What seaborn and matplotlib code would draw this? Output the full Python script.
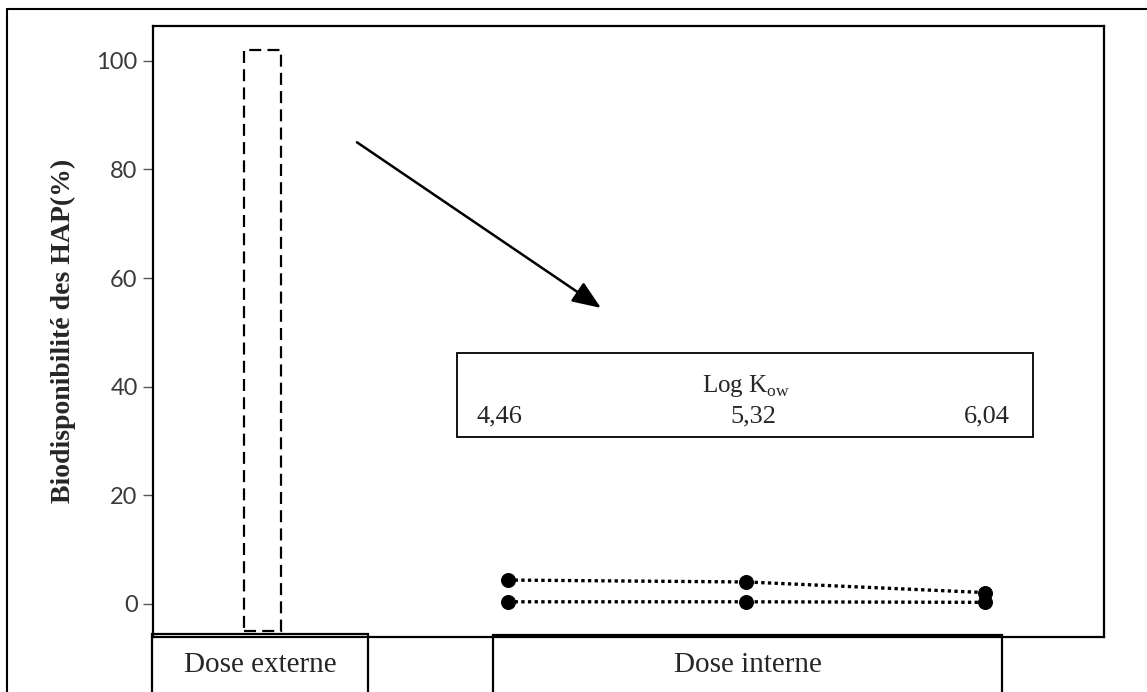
import matplotlib
matplotlib.use("Agg")
import matplotlib.pyplot as plt
import seaborn as sns
import numpy as np
from matplotlib.patches import Rectangle
from matplotlib.lines import Line2D

# ---------------- data ----------------
group_labels = ["Dose externe", "Dose interne"]
ext_bar_top = 102.0
ext_bar_bottom = -5.0
log_kow_labels = ["4,46", "5,32", "6,04"]
series_high = [4.4, 4.05, 2.1]
series_low = [0.4, 0.4, 0.3]
y_ticks = [0, 20, 40, 60, 80, 100]
y_label = "Biodisponibilité des HAP(%)"
box_title = "Log K$_{\\mathregular{ow}}$"

# ---------------- figure ----------------
sns.set_style("white")
W, H = 1147, 692
fig = plt.figure(figsize=(W / 100, H / 100), dpi=100)
ax = fig.add_axes([153 / W, 1 - 636.5 / H, (1104 - 153) / W, (636.5 - 25.5) / H])

serif = "Liberation Serif"

# external dose bar (dashed, unfilled)
ext_x = [-0.03]
sns.barplot(x=ext_x, y=[ext_bar_top - ext_bar_bottom], bottom=ext_bar_bottom,
            native_scale=True, width=0.155, fill=False, color="black",
            linewidth=1.6, ax=ax, legend=False)
for p in ax.patches:
    p.set_edgecolor("black")
    p.set_linestyle((0, (5.4, 2.8)))
    p.set_linewidth(1.6)

# internal dose series
xpos = np.arange(1, len(log_kow_labels) + 1)
for vals in (series_high, series_low):
    sns.lineplot(x=xpos, y=vals, ax=ax, color="black", linestyle=(0, (1, 1)),
                 linewidth=2.4, marker="o", markersize=10, markeredgecolor="black",
                 markerfacecolor="black", sort=False, legend=False)

# axes limits
ax.set_xlim(-0.488, 3.499)
ax.set_ylim(-5.99, 106.5)
ax.set_yticks(y_ticks)
ax.set_yticklabels([str(t) for t in y_ticks], fontfamily="Lato", fontweight="normal",
                   fontsize=17, color="#3a3a3a")
ax.set_xticks([])
ax.tick_params(axis="y", length=7, width=1, color="#555555", pad=4, left=True)
ax.set_xlabel("")
for s in ax.spines.values():
    s.set_linewidth(1.6)
    s.set_color("black")
    s.set_visible(True)

ax.set_ylabel(y_label, fontfamily=serif, fontweight="bold", fontsize=20)
ax.yaxis.set_label_coords(-0.081, 0.5)

# arrow
ax.annotate("", xy=(1.39, 54.5), xytext=(0.367, 85),
            arrowprops=dict(arrowstyle="-|>,head_length=0.5,head_width=0.2",
                            lw=1.8, color="black", mutation_scale=35,
                            shrinkA=0, shrinkB=0))

# Log Kow box
ax.add_patch(Rectangle((0.786, 30.75), 3.201 - 0.786, 46.2 - 30.75, fill=False,
                       lw=1.3, edgecolor="black"))
ax.text(2.0, 40.2, box_title, ha="center", va="center", fontfamily=serif, fontsize=18)
ax.text(0.87, 34.6, log_kow_labels[0], ha="left", va="center", fontfamily=serif, fontsize=19)
ax.text(2.03, 34.6, log_kow_labels[1], ha="center", va="center", fontfamily=serif, fontsize=19)
ax.text(3.105, 34.6, log_kow_labels[2], ha="right", va="center", fontfamily=serif, fontsize=19)

# group boxes below the axis
ax.add_patch(Rectangle((-0.493, -30), 0.413 + 0.493, 30 - 5.6, fill=False, lw=1.6,
                       edgecolor="black", clip_on=False))
ax.add_patch(Rectangle((0.937, -30), 3.071 - 0.937, 30 - 5.8, fill=False, lw=1.6,
                       edgecolor="black", clip_on=False))
ax.text(-0.04, -11.3, group_labels[0], ha="center", va="center", fontfamily=serif,
        fontsize=21, clip_on=False)
ax.text(2.006, -11.3, group_labels[1], ha="center", va="center", fontfamily=serif,
        fontsize=21, clip_on=False)

# outer frame (top and left)
fig.add_artist(Line2D([7 / W, 7 / W], [0, 1 - 9 / H], transform=fig.transFigure,
                      color="black", lw=1.5))
fig.add_artist(Line2D([7 / W, 1], [1 - 9 / H, 1 - 9 / H], transform=fig.transFigure,
                      color="black", lw=1.5))

fig.savefig("out.png", dpi=100)
